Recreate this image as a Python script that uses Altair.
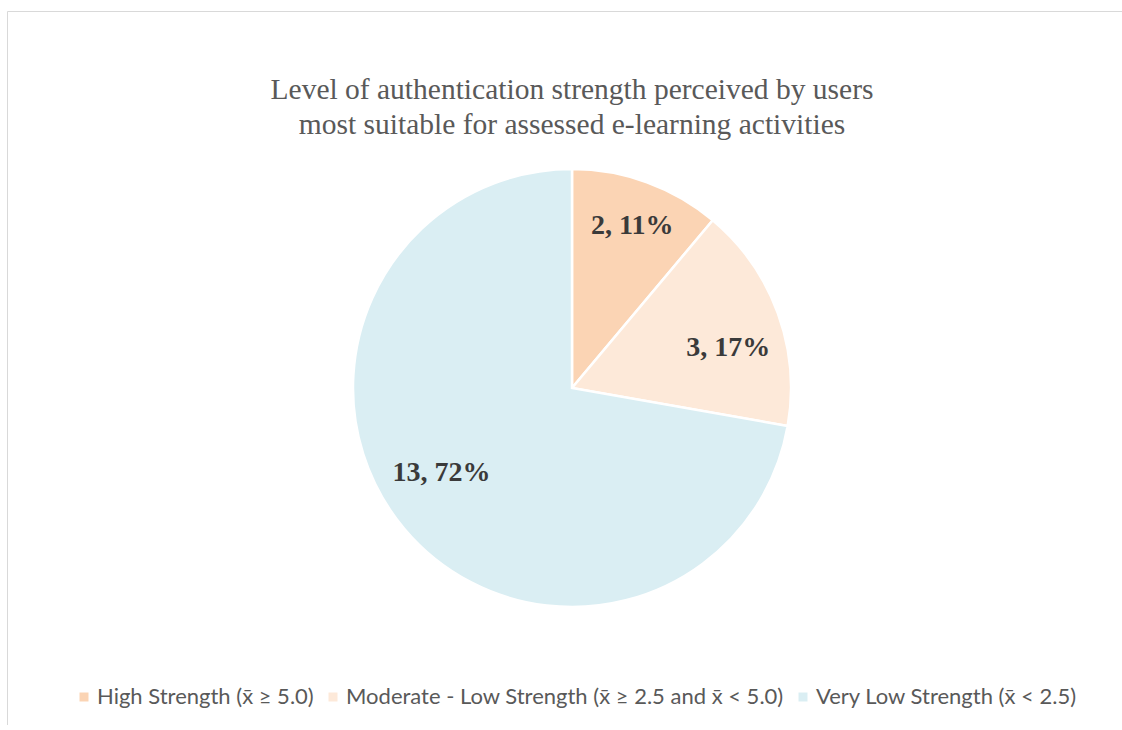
import altair as alt
import pandas as pd

categories = [
    "High Strength (x\u0304 \u2265 5.0)",
    "Moderate - Low Strength (x\u0304 \u2265 2.5 and x\u0304 < 5.0)",
    "Very Low Strength (x\u0304 < 2.5)",
]
counts = [2, 3, 13]
colors = ["#FBD4B4", "#FDE9D9", "#DAEEF3"]
title_lines = [
    "Level of authentication strength perceived by users",
    "most suitable for assessed e-learning activities",
]

df = pd.DataFrame({"category": categories, "count": counts, "order": list(range(len(categories)))})

PAD_TOP = 150
VIEW_H = 575
CX, CY = 572, 388 - PAD_TOP
R = 219

base = (
    alt.Chart(df)
    .transform_joinaggregate(total="sum(count)")
    .transform_window(cum="sum(count)", sort=[alt.SortField("order")], frame=[None, 0])
    .transform_calculate(
        pct="round(datum.count / datum.total * 100)",
        label="datum.count + ', ' + round(datum.count / datum.total * 100) + '%'",
        mid="(datum.cum - datum.count / 2) / datum.total * 2 * PI",
    )
)

arc = base.mark_arc(radius=R, stroke="white", strokeWidth=2.5).encode(
    theta=alt.Theta("count:Q", stack=True),
    order=alt.Order("order:Q"),
    color=alt.Color(
        "category:N",
        scale=alt.Scale(domain=categories, range=colors),
        legend=alt.Legend(
            orient="none",
            legendX=73,
            legendY=536,
            direction="horizontal",
            title=None,
            symbolType="square",
            symbolSize=81,
            symbolStrokeWidth=0,
            labelFont="Lato",
            labelFontSize=22,
            labelColor="#595959",
            labelLimit=800,
            labelOffset=2,
            columnPadding=8,
            padding=0,
        ),
    ),
    x=alt.value(CX),
    y=alt.value(CY),
)


def label_layer(cat, r, dx, dy):
    return (
        base.transform_filter(alt.datum.category == cat)
        .mark_text(
            radius=r,
            dx=dx,
            dy=dy,
            font="Liberation Serif",
            fontSize=28,
            fontWeight="bold",
            color="#3A3A3A",
            align="center",
            baseline="middle",
        )
        .encode(
            theta=alt.Theta("mid:Q", scale=None),
            text="label:N",
            x=alt.value(CX),
            y=alt.value(CY),
        )
    )


labels = [
    label_layer(categories[0], 173, 1, 1),
    label_layer(categories[1], 160, 6, 15),
    label_layer(categories[2], 156, -11, -15),
]

frame = alt.Chart(alt.Data(values=[{"k": 1}]))
top_line = frame.mark_rule(color="#D9D9D9", strokeWidth=1).encode(
    x=alt.value(7.5), x2=alt.value(1122), y=alt.value(11.5 - PAD_TOP)
)
left_line = frame.mark_rule(color="#D9D9D9", strokeWidth=1).encode(
    x=alt.value(7.5), y=alt.value(11.5 - PAD_TOP), y2=alt.value(VIEW_H)
)

chart = (
    alt.layer(top_line, left_line, arc, *labels)
    .properties(
        width=1122,
        height=VIEW_H,
        autosize=alt.AutoSizeParams(type="none"),
        padding={"left": 0, "right": 0, "top": PAD_TOP, "bottom": 0},
        title=alt.TitleParams(
            text=title_lines,
            font="Liberation Serif",
            fontSize=29.5,
            fontWeight="normal",
            color="#595959",
            anchor="middle",
            offset=9,
            dx=11,
            dy=138,
            lineHeight=35,
        ),
        background="white",
    )
    .configure_view(stroke=None)
)

chart.save("out.html", embed_options={"renderer": "svg", "actions": False})
